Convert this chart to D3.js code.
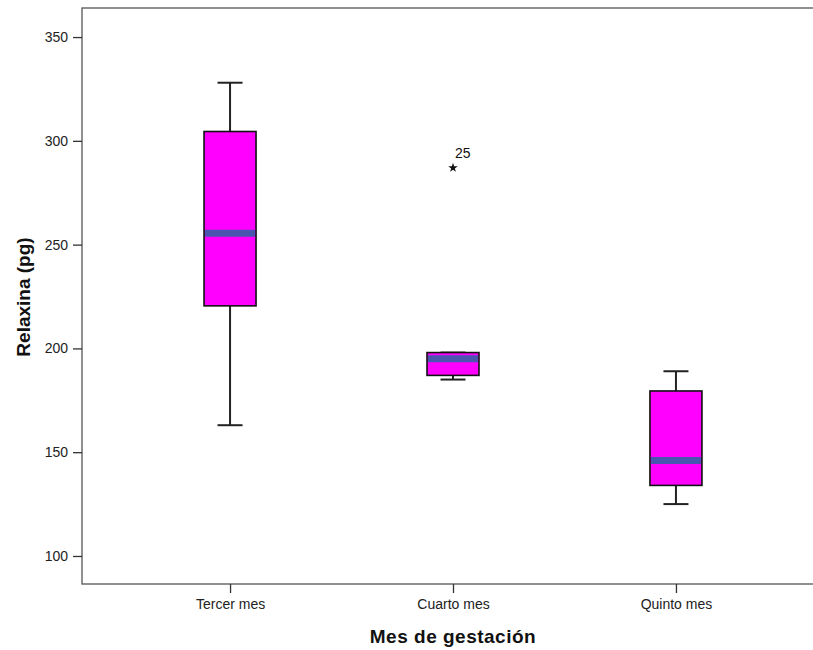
<!DOCTYPE html>
<html>
<head>
<meta charset="utf-8">
<script src="https://cdn.jsdelivr.net/npm/d3@7"></script>
<style>
  body { margin: 0; background: #fff; }
  text { font-family: Arial, "Liberation Sans", sans-serif; }
</style>
</head>
<body>
<div id="chart"></div>
<script>
var categories = ['Tercer mes', 'Cuarto mes', 'Quinto mes']
var whiskerLow = [163, 185, 125]
var q1 = [220.5, 187, 134]
var median = [255.5, 195, 146]
var q3 = [304.5, 198, 179.5]
var whiskerHigh = [328, 198, 189]
var outliers = [{ cat: 'Cuarto mes', value: 287, label: '25' }]
var yTicks = [100, 150, 200, 250, 300, 350]

var w = 813
  , h = 650
  , mLeft = 82
  , mTop = 8
  , mRight = 824
  , mBottom = 584

var svg = d3.select('#chart').append('svg').attr('width', w).attr('height', h)

var x = d3.scalePoint().domain(categories).range([mLeft, mRight]).padding(0.664)
var y = d3.scaleLinear().domain([86.5, 364]).range([mBottom, mTop])

// frame
svg.append('rect')
  .attr('x', mLeft).attr('y', mTop)
  .attr('width', mRight - mLeft).attr('height', mBottom - mTop)
  .attr('fill', 'none').attr('stroke', '#555').attr('stroke-width', 1.3)

// axes
var yAxis = svg.append('g').attr('transform', 'translate(' + mLeft + ',0)')
  .call(d3.axisLeft(y).tickValues(yTicks).tickSize(9).tickPadding(5))
var xAxis = svg.append('g').attr('transform', 'translate(0,' + mBottom + ')')
  .call(d3.axisBottom(x).tickSize(9).tickPadding(6))

;[yAxis, xAxis].forEach(function (g) {
  g.select('.domain').remove()
  g.selectAll('line').attr('stroke', '#333').attr('stroke-width', 1.3)
  g.selectAll('text').attr('font-size', 14).attr('fill', '#222')
    .attr('font-family', 'Arial, "Liberation Sans", sans-serif')
})

svg.append('text')
  .attr('transform', 'translate(30,' + 297 + ') rotate(-90)')
  .attr('text-anchor', 'middle').attr('font-size', 19).attr('font-weight', 'bold')
  .attr('fill', '#111')
  .text('Relaxina (pg)')

svg.append('text')
  .attr('x', 453).attr('y', 643)
  .attr('text-anchor', 'middle').attr('font-size', 19).attr('font-weight', 'bold')
  .attr('letter-spacing', 0.5)
  .attr('fill', '#111')
  .text('Mes de gestación')

var boxW = 52
  , capW = 25

var g = svg.selectAll('.box').data(categories).enter().append('g')
  .attr('class', 'box')
  .attr('transform', function (d) { return 'translate(' + x(d) + ',0)' })

g.append('line')
  .attr('y1', function (d, i) { return y(whiskerHigh[i]) })
  .attr('y2', function (d, i) { return y(whiskerLow[i]) })
  .attr('stroke', '#222').attr('stroke-width', 2)

g.selectAll('.cap')
  .data(function (d, i) { return [whiskerLow[i], whiskerHigh[i]] })
  .enter().append('line')
  .attr('x1', -capW / 2).attr('x2', capW / 2)
  .attr('y1', y).attr('y2', y)
  .attr('stroke', '#222').attr('stroke-width', 2)

g.append('rect')
  .attr('x', -boxW / 2).attr('width', boxW)
  .attr('y', function (d, i) { return y(q3[i]) })
  .attr('height', function (d, i) { return y(q1[i]) - y(q3[i]) })
  .attr('fill', '#ff00ff').attr('stroke', '#111').attr('stroke-width', 1.6)

g.append('line')
  .attr('x1', -boxW / 2 + 1).attr('x2', boxW / 2 - 1)
  .attr('y1', function (d, i) { return y(median[i]) })
  .attr('y2', function (d, i) { return y(median[i]) })
  .attr('stroke', '#4a55b0').attr('stroke-width', 7)

// outliers
svg.selectAll('.out').data(outliers).enter().append('path')
  .attr('d', d3.symbol(d3.symbolStar).size(28))
  .attr('transform', function (d) { return 'translate(' + x(d.cat) + ',' + y(d.value) + ')' })
  .attr('fill', '#111')

svg.selectAll('.outlab').data(outliers).enter().append('text')
  .attr('x', function (d) { return x(d.cat) + 2 }).attr('y', function (d) { return y(d.value) - 10 })
  .attr('font-size', 14).attr('fill', '#111')
  .attr('font-family', '"Liberation Serif", "DejaVu Serif", serif')
  .text(function (d) { return d.label })
</script>
</body>
</html>
